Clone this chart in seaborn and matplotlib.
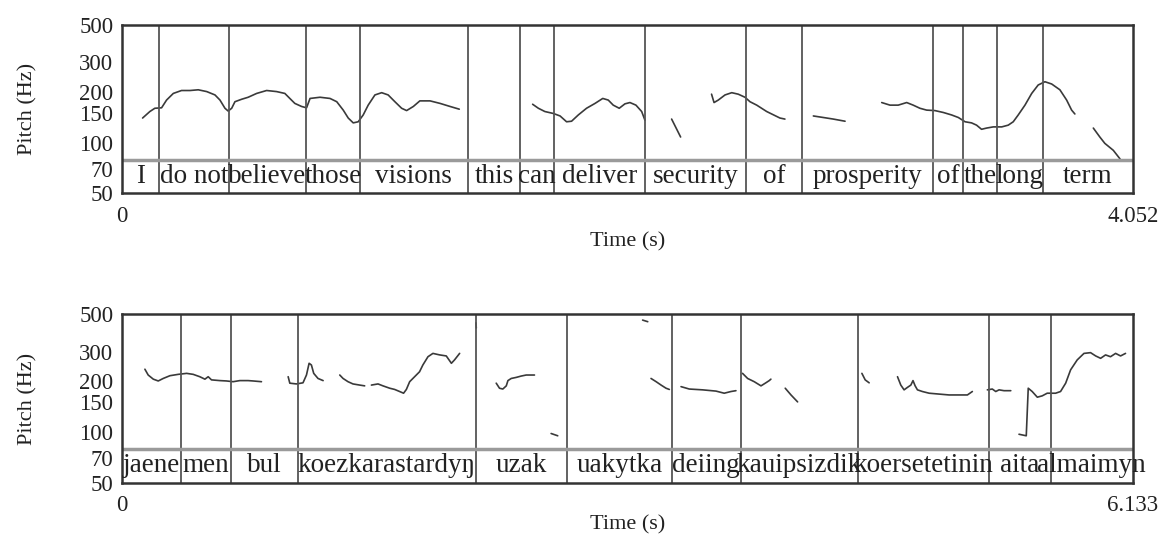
import numpy as np
import pandas as pd
import matplotlib
matplotlib.use("Agg")
import matplotlib.pyplot as plt
import seaborn as sns
from matplotlib.ticker import NullLocator, NullFormatter

# sentence 1 (English)
top_dur = 4.052
top_bounds = [0.149, 0.430, 0.739, 0.954, 1.387, 1.598, 1.733, 2.097,
              2.504, 2.726, 3.251, 3.372, 3.508, 3.692]
top_words = ["I", "do not", "believe", "those", "visions", "this", "can",
             "deliver", "security", "of", "prosperity", "of", "the", "long", "term"]
top_t = [
    [0.084, 0.113, 0.133, 0.160, 0.180, 0.207, 0.240, 0.274, 0.307, 0.341,
     0.374, 0.394, 0.414, 0.427, 0.441, 0.454, 0.481, 0.507, 0.541, 0.581,
     0.621, 0.654, 0.674, 0.694, 0.721, 0.741, 0.755, 0.795, 0.835, 0.862,
     0.888, 0.908, 0.928, 0.948, 0.968, 0.988, 1.015, 1.042, 1.068, 1.095,
     1.122, 1.142, 1.169, 1.195, 1.236, 1.276, 1.316, 1.353],
    [1.647, 1.670, 1.696, 1.730, 1.757, 1.783, 1.803, 1.830, 1.863, 1.897,
     1.928, 1.950, 1.970, 1.994, 2.017, 2.037, 2.061, 2.084, 2.097],
    [2.204, 2.240],
    [2.364, 2.374, 2.391, 2.418, 2.445, 2.471, 2.498, 2.518, 2.545, 2.585,
     2.638, 2.658],
    [2.772, 2.812, 2.852, 2.899],
    [3.046, 3.079, 3.112, 3.146, 3.172, 3.199, 3.226, 3.259, 3.293, 3.326,
     3.353, 3.380, 3.406, 3.426, 3.446, 3.466, 3.493, 3.527, 3.553, 3.573,
     3.593, 3.620, 3.647, 3.673, 3.700, 3.727, 3.760, 3.787, 3.807, 3.820],
    [3.894, 3.920, 3.940, 3.974, 4.001],
]
top_hz = [
    [140, 153, 160, 161, 179, 196, 204, 204, 206, 201,
     192, 179, 160, 154, 160, 175, 181, 186, 196, 204,
     201, 196, 183, 171, 164, 161, 183, 186, 183, 175,
     156, 140, 131, 133, 146, 167, 192, 198, 192, 175,
     160, 155, 164, 177, 177, 171, 164, 158],
    [169, 160, 153, 149, 144, 133, 134, 146, 160, 171,
     183, 179, 167, 160, 170, 173, 167, 153, 136],
    [138, 108],
    [194, 173, 179, 192, 198, 194, 186, 175, 167, 153, 140, 138],
    [144, 141, 138, 134],
    [173, 167, 167, 173, 167, 160, 156, 155, 151, 146,
     141, 133, 131, 127, 120, 122, 124, 124, 127, 133,
     146, 167, 196, 220, 230, 223, 206, 179, 156, 148],
    [122, 108, 99, 90, 80],
]

# sentence 2 (Kazakh, latin transcription)
bot_dur = 6.133
bot_bounds = [0.357, 0.666, 1.067, 2.151, 2.703, 3.337, 3.755, 4.469, 5.258, 5.636]
bot_words = ["jaene", "men", "bul", "koezkarastardyŋ", "uzak", "uakytka",
             "deiing", "kauipsizdik", "koersetetinin", "aita", "almaimyn"]
bot_t = [
    [0.141, 0.161, 0.192, 0.222, 0.252, 0.293, 0.343, 0.394, 0.434, 0.474,
     0.505, 0.525, 0.545, 0.596, 0.636, 0.676, 0.717, 0.767, 0.797, 0.848],
    [1.010, 1.020, 1.060, 1.100, 1.121, 1.137, 1.151, 1.165, 1.191, 1.222],
    [1.323, 1.343, 1.373, 1.403, 1.444, 1.474],
    [1.515, 1.555, 1.585, 1.626, 1.656, 1.686, 1.710, 1.727, 1.747, 1.777,
     1.807, 1.827, 1.858, 1.888, 1.929, 1.969, 2.000, 2.019, 2.050],
    [2.149, 2.151],
    [2.272, 2.292, 2.312, 2.333, 2.343, 2.363, 2.393, 2.424, 2.454, 2.504],
    [2.605, 2.645],
    [3.160, 3.191],
    [3.211, 3.242, 3.272, 3.302, 3.322],
    [3.393, 3.443, 3.524, 3.605, 3.655, 3.696, 3.726],
    [3.766, 3.797, 3.837, 3.878, 3.904, 3.928, 3.938],
    [4.025, 4.060, 4.100],
    [4.490, 4.510, 4.534],
    [4.706, 4.726, 4.746, 4.766, 4.787, 4.800, 4.813, 4.827, 4.857, 4.898,
     4.958, 5.019, 5.079, 5.130, 5.160],
    [5.251, 5.281, 5.302, 5.322, 5.352, 5.393],
    [5.443, 5.487, 5.499, 5.523, 5.554, 5.584, 5.614, 5.665, 5.695, 5.726,
     5.756, 5.796, 5.837, 5.877, 5.908, 5.938, 5.968, 5.998, 6.029, 6.059, 6.089],
]
bot_hz = [
    [236, 218, 206, 201, 208, 216, 220, 223, 220, 213,
     206, 213, 204, 202, 201, 199, 202, 202, 201, 199],
    [213, 195, 193, 196, 218, 256, 250, 223, 208, 202],
    [218, 208, 199, 193, 190, 188],
    [190, 193, 188, 182, 179, 174, 170, 179, 199, 213,
     228, 250, 280, 293, 287, 283, 256, 268, 293],
    [445, 415],
    [195, 182, 180, 188, 202, 208, 211, 215, 218, 218],
    [98, 95],
    [462, 452],
    [208, 199, 190, 182, 179],
    [186, 180, 178, 175, 170, 174, 176],
    [223, 208, 199, 188, 195, 202, 206],
    [182, 166, 151],
    [223, 204, 196],
    [213, 190, 178, 184, 190, 202, 188, 178, 174, 170,
     168, 166, 166, 166, 174],
    [178, 180, 174, 178, 176, 176],
    [97, 95, 182, 174, 161, 164, 170, 170, 174, 195,
     234, 268, 293, 296, 283, 274, 287, 280, 293, 283, 293],
]

y_ticks = [50, 70, 100, 150, 200, 300, 500]
tier_top = 79  # Hz, upper edge of the text tier

sns.set_style("white")
plt.rcParams["font.family"] = ["Liberation Serif", "DejaVu Serif"]


def draw_panel(ax, dur, bounds, words, seg_t, seg_hz, xlab_y):
    rows = []
    for i, (ts, hs) in enumerate(zip(seg_t, seg_hz)):
        for t, h in zip(ts, hs):
            rows.append((i, t, h))
    df = pd.DataFrame(rows, columns=["seg", "t", "hz"])
    sns.lineplot(data=df, x="t", y="hz", units="seg", estimator=None,
                 sort=False, color="#3a3a3a", lw=1.2, ax=ax, legend=False)
    ax.set_yscale("log")
    ax.set_ylim(50, 500)
    ax.set_xlim(0, dur)

    for b in bounds:
        ax.axvline(b, color="#555555", lw=1.3)
    ax.axhline(tier_top, color="#9a9a9a", lw=2.5)

    edges = [0] + bounds + [dur]
    ymid = np.sqrt(50 * tier_top)
    for w, a, b in zip(words, edges[:-1], edges[1:]):
        ax.text((a + b) / 2, ymid, w, ha="center", va="center",
                fontsize=19.5, color="#222222")

    ax.set_yticks(y_ticks)
    ax.set_yticklabels([str(v) for v in y_ticks])
    ax.yaxis.set_minor_locator(NullLocator())
    ax.yaxis.set_minor_formatter(NullFormatter())
    ax.set_xticks([0, dur])
    ax.set_xticklabels(["0", f"{dur:.3f}"])
    ax.tick_params(axis="both", direction="out", length=4, width=1.2,
                   color="#333333", labelsize=16.5, labelcolor="#222222")
    ax.tick_params(axis="x", pad=5)
    ax.tick_params(axis="y", pad=2)
    for s in ax.spines.values():
        s.set_linewidth(1.8)
        s.set_color("#333333")

    ax.set_xlabel("Time (s)", fontsize=16, color="#222222")
    ax.set_ylabel("Pitch (Hz)", fontsize=16, color="#222222")
    ax.xaxis.set_label_coords(0.5, xlab_y)
    ax.yaxis.set_label_coords(-0.083, 0.5)


fig = plt.figure(figsize=(11.63, 5.36), dpi=100)
ax1 = fig.add_axes([0.1046, 0.6394, 0.8694, 0.314])
ax2 = fig.add_axes([0.1046, 0.0994, 0.8694, 0.3142])

draw_panel(ax1, top_dur, top_bounds, top_words, top_t, top_hz, -0.23)
draw_panel(ax2, bot_dur, bot_bounds, bot_words, bot_t, bot_hz, -0.195)

fig.savefig("out.png", dpi=100)
